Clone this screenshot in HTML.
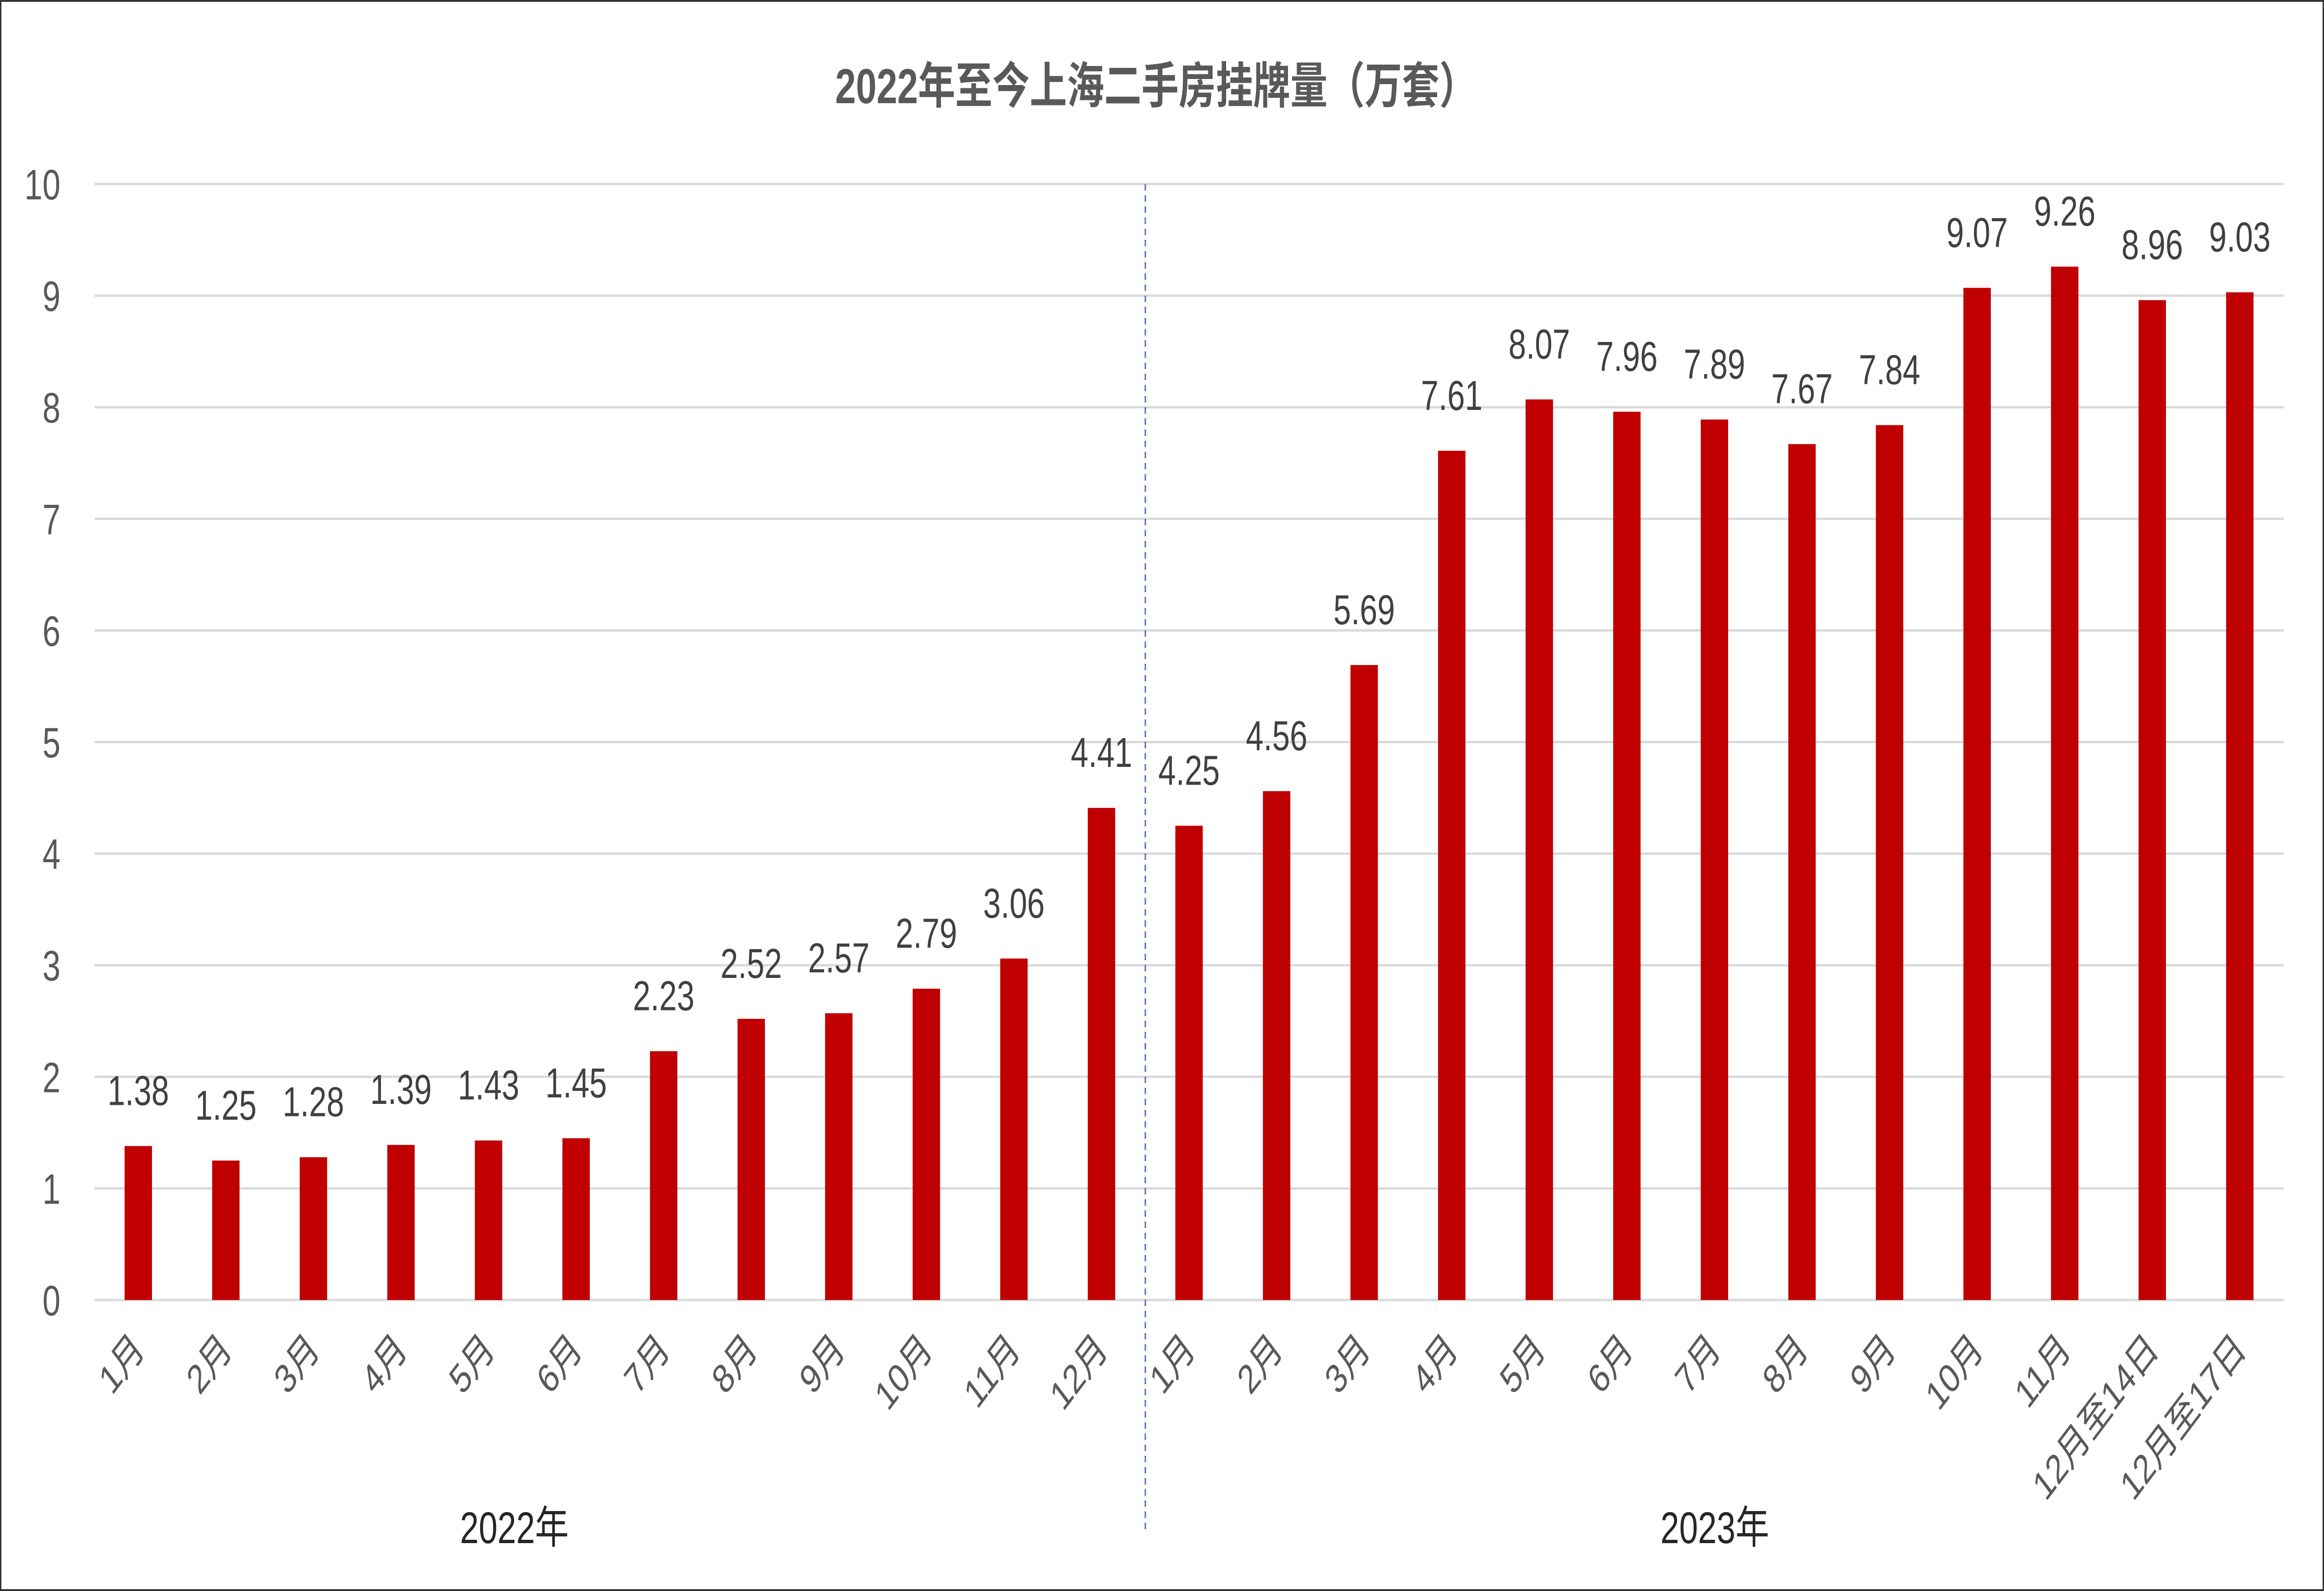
<!DOCTYPE html>
<html><head><meta charset="utf-8">
<style>
html,body{margin:0;padding:0;background:#fff;overflow:hidden;width:100%;height:100%;}
svg{display:block;width:100vw;height:100vh;}
</style></head>
<body>
<svg id="chart" viewBox="0 0 6615 3423" preserveAspectRatio="none" xmlns="http://www.w3.org/2000/svg" font-family="'Liberation Sans','Noto Sans CJK SC',sans-serif">
<rect x="2" y="2" width="6611" height="3419" fill="#fff" stroke="#333" stroke-width="4"/>
<text x="3290" y="222" text-anchor="middle" font-size="106" font-weight="bold" fill="#595959">2022年至今上海二手房挂牌量（万套）</text>
<g id="grid"></g>
<g id="bars"></g>
<g id="labels"></g>
<g id="xlabels"></g>
<line x1="3260" y1="396" x2="3260" y2="3290" stroke="#4472C4" stroke-width="4" stroke-dasharray="14,10"/>
<text x="1464" y="3320" text-anchor="middle" font-size="96" fill="#262626">2022年</text>
<text x="4881" y="3320" text-anchor="middle" font-size="96" fill="#262626">2023年</text>
</svg>
<script>
const categories = ["1月","2月","3月","4月","5月","6月","7月","8月","9月","10月","11月","12月","1月","2月","3月","4月","5月","6月","7月","8月","9月","10月","11月","12月至14日","12月至17日"];
const values = [1.38,1.25,1.28,1.39,1.43,1.45,2.23,2.52,2.57,2.79,3.06,4.41,4.25,4.56,5.69,7.61,8.07,7.96,7.89,7.67,7.84,9.07,9.26,8.96,9.03];
const yTicks = [0,1,2,3,4,5,6,7,8,9,10];

const NS = "http://www.w3.org/2000/svg";
const plotL = 269, plotR = 6500, y0 = 2797, y10 = 396;
const yScale = v => y0 - (y0 - y10) * v / 10;
const band = (plotR - plotL) / categories.length;
const xCenter = i => plotL + band * (i + 0.5);
const barW = 78;
function mk(tag, attrs, parent){ const e=document.createElementNS(NS,tag); for(const k in attrs) e.setAttribute(k,attrs[k]); parent.appendChild(e); return e; }

const grid = document.getElementById('grid');
yTicks.forEach(t => {
  const y = yScale(t);
  const l = mk('line',{x1:plotL,x2:plotR,y1:y,y2:y,stroke:'#d9d9d9','stroke-width':5},grid);
  
  
  const tx = mk('text',{x:172,y:y+33,'text-anchor':'end','font-size':92,fill:'#595959'},grid);
  tx.textContent = t;
  
  
});

const bars = document.getElementById('bars'), labels = document.getElementById('labels'), xl = document.getElementById('xlabels');
values.forEach((v,i) => {
  const cx = xCenter(i), top = yScale(v);
  const r = mk('rect',{x:cx-barW/2,y:top,width:barW,height:y0-top,fill:'#C00000'},bars);
  
  
  const t = mk('text',{x:cx,y:top-88,'text-anchor':'middle','font-size':90,fill:'#404040'},labels);
  t.textContent = v.toFixed(2);
  
  
  const ax = cx + 22, ay = y0 + 110;
  const c = mk('text',{x:ax,y:ay,'text-anchor':'end','font-size':88,fill:'#595959',transform:`rotate(-45 ${ax} ${ay})`},xl);
  c.textContent = categories[i];
  
  
});
</script>
</body></html>
